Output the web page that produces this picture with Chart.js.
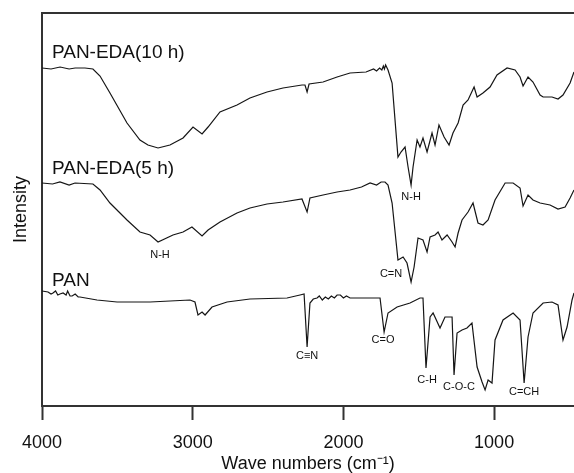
<!DOCTYPE html>
<html>
<head>
<meta charset="utf-8">
<script src="https://cdn.jsdelivr.net/npm/chart.js@4/dist/chart.umd.min.js"></script>
<style>
  html, body { margin: 0; padding: 0; background: #fff; }
  #wrap { width: 574px; height: 473px; position: relative; }
</style>
</head>
<body>
<div id="wrap"><canvas id="c"></canvas></div>
<script>
// ---- Data (wavenumber in cm-1, intensity in arbitrary offset units) ----
const wn10h = [4000,3940,3880,3820,3780,3715,3662,3615,3549,3436,3350,3297,3230,3151,3064,2998,2938,2898,2819,2706,2620,2507,2401,2275,2255,2241,2228,2135,2042,1956,1850,1800,1780,1760,1745,1735,1728,1720,1704,1677,1638,1618,1591,1571,1551,1538,1511,1492,1472,1445,1412,1392,1366,1332,1299,1273,1239,1206,1173,1133,1113,1074,1027,981,914,861,828,808,775,742,695,675,616,576,543,496,470];
const int10h = [338,337,339,337,338,338,337,330,313,283,266,261,258,261,268,279,272,279,294,301,308,314,318,321,321,314,322,324,329,333,334,337,335,338,336,340,337,341,336,323,249,254,259,239,221,239,266,259,268,254,273,261,281,269,261,273,283,301,306,319,309,313,319,331,338,336,329,320,329,324,311,309,309,307,311,323,334];

const wn5h = [4000,3930,3881,3820,3781,3662,3615,3549,3436,3350,3283,3230,3131,3064,3005,2938,2898,2819,2706,2620,2507,2401,2275,2241,2222,2135,2042,1956,1880,1823,1780,1750,1724,1704,1677,1638,1604,1578,1551,1531,1505,1472,1445,1425,1392,1372,1346,1312,1279,1259,1239,1213,1173,1140,1107,1074,1040,994,927,874,828,808,775,742,695,629,576,529,496,470];
const int5h = [223,222,224,221,223,222,216,203,186,174,171,164,171,174,179,170,176,184,193,198,202,204,207,194,208,211,214,216,219,223,221,224,224,221,203,146,149,143,124,139,168,166,154,169,171,174,166,171,164,159,173,186,194,203,183,181,186,206,223,223,218,200,211,206,203,201,197,199,208,216];

const wnPAN = [4000,3960,3940,3927,3910,3895,3881,3860,3840,3830,3814,3800,3780,3760,3748,3635,3502,3283,3018,2985,2965,2938,2918,2872,2772,2620,2374,2288,2261,2241,2222,2200,2175,2160,2140,2120,2100,2080,2060,2042,2020,2000,1980,1956,1757,1730,1704,1644,1558,1492,1472,1452,1425,1405,1359,1326,1279,1266,1246,1213,1180,1147,1113,1080,1060,1040,1014,994,941,874,828,801,775,742,675,616,576,543,516,483,470];
const intPAN = [115,114,112,113,115,111,112,113,111,115,110,110,112,109,109,106,104,104,106,104,91,94,91,99,104,107,108,111,112,59,103,107,108,110,106,109,107,110,108,111,111,108,110,108,108,74,93,99,103,108,108,38,89,93,78,89,89,31,73,76,78,83,39,24,16,26,23,66,86,93,86,23,69,93,103,104,101,66,79,106,113];

const seriesNames = ['PAN-EDA(10 h)', 'PAN-EDA(5 h)', 'PAN'];
const xTicks = [4000, 3000, 2000, 1000];

// Text labels anchored in data coordinates
const seriesLabelWn = [3934, 3934, 3934];
const seriesLabelY = [353, 237, 125];
const peakLabels = ['N-H', 'N-H', 'C=N', 'C\u2261N', 'C=O', 'C-H', 'C-O-C', 'C=CH'];
const peakLabelWn = [1551, 3217, 1684, 2241, 1737, 1445, 1233, 801];
const peakLabelY = [209, 151, 132, 50, 66, 26, 19, 14];

const toXY = (xs, ys) => xs.map((x, i) => ({ x: x, y: ys[i] }));

const FONT = "'Liberation Sans', Arial, Helvetica, sans-serif";
const lineColor = '#151515';
const axisColor = '#333';

const framePlugin = {
  id: 'frameAndLabels',
  afterDraw(chart) {
    const { ctx, chartArea, scales } = chart;
    ctx.save();
    // top frame line
    ctx.strokeStyle = axisColor;
    ctx.lineWidth = 2;
    ctx.beginPath();
    ctx.moveTo(chartArea.left - 1, chartArea.top);
    ctx.lineTo(chartArea.right, chartArea.top);
    ctx.stroke();
    // series names
    ctx.fillStyle = '#111';
    ctx.textBaseline = 'middle';
    ctx.textAlign = 'left';
    ctx.font = '19px ' + FONT;
    seriesNames.forEach((n, i) => {
      ctx.fillText(n, scales.x.getPixelForValue(seriesLabelWn[i]), scales.y.getPixelForValue(seriesLabelY[i]));
    });
    // peak labels
    ctx.textAlign = 'center';
    ctx.font = '11px ' + FONT;
    peakLabels.forEach((n, i) => {
      ctx.fillText(n, scales.x.getPixelForValue(peakLabelWn[i]), scales.y.getPixelForValue(peakLabelY[i]));
    });
    ctx.restore();
  }
};

const ds = (label, xs, ys) => ({
  label: label,
  data: toXY(xs, ys),
  borderColor: lineColor,
  borderWidth: 1.2,
  pointRadius: 0,
  tension: 0,
  fill: false
});

new Chart(document.getElementById('c'), {
  type: 'line',
  data: {
    datasets: [
      ds(seriesNames[0], wn10h, int10h),
      ds(seriesNames[1], wn5h, int5h),
      ds(seriesNames[2], wnPAN, intPAN)
    ]
  },
  options: {
    responsive: true,
    maintainAspectRatio: false,
    animation: false,
    layout: { padding: { top: 13, right: 0, left: 0, bottom: 0 } },
    plugins: { legend: { display: false }, tooltip: { enabled: false } },
    scales: {
      x: {
        type: 'linear',
        reverse: true,
        min: 470,
        max: 4000,
        afterBuildTicks: (s) => { s.ticks = xTicks.map(v => ({ value: v })); },
        ticks: {
          includeBounds: false,
          stepSize: 1000,
          padding: 14,
          color: '#111',
          font: { family: FONT, size: 18, lineHeight: 1 },
          callback: (v) => String(v)
        },
        grid: {
          display: true,
          drawOnChartArea: false,
          drawTicks: true,
          tickLength: 14,
          tickWidth: 2,
          tickColor: axisColor,
          color: axisColor
        },
        border: { display: true, color: axisColor, width: 2 },
        title: {
          display: true,
          text: 'Wave numbers (cm\u207B\u00B9)',
          color: '#111',
          font: { family: FONT, size: 18, lineHeight: 1 },
          padding: { top: -11, bottom: 0 }
        }
      },
      y: {
        type: 'linear',
        min: 0,
        max: 393,
        ticks: { display: false },
        grid: { display: false, drawTicks: false },
        border: { display: true, color: axisColor, width: 2 },
        title: {
          display: true,
          text: 'Intensity',
          color: '#111',
          font: { family: FONT, size: 18, lineHeight: 1.2 },
          padding: { top: 10, bottom: 10.4 }
        }
      }
    }
  },
  plugins: [framePlugin]
});
</script>
</body>
</html>
